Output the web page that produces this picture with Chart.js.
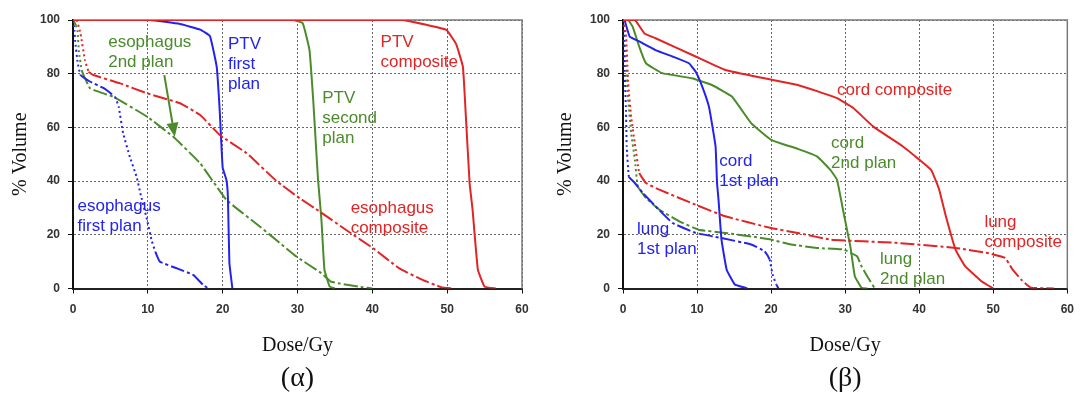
<!DOCTYPE html>
<html>
<head>
<meta charset="utf-8">
<script src="https://cdn.jsdelivr.net/npm/chart.js@4.4.1/dist/chart.umd.min.js"></script>
<style>
  html, body { margin: 0; padding: 0; background: #fff; }
  #wrap { position: relative; width: 1083px; height: 394px; }
  canvas { position: absolute; top: 0; }
  #chartA { left: 0; }
  #chartB { left: 541px; }
</style>
</head>
<body>
<div id="wrap">
  <canvas id="chartA" width="541" height="394"></canvas>
  <canvas id="chartB" width="542" height="394"></canvas>
</div>
<script>
// tick labels
const doseTicks = [0, 10, 20, 30, 40, 50, 60];
const volumeTicks = [0, 20, 40, 60, 80, 100];

// (α) panel - PTV / esophagus
const ptvCompositeDose = [0, 44, 47.2, 49.9, 51.2, 52.1, 52.5, 53.0, 53.4, 54.1, 55.0, 56.5];
const ptvCompositeVol  = [100, 100, 98.2, 96.3, 91, 82.6, 64, 39.2, 29.2, 7, 0.7, 0];
const esoCompositeDose = [0, 0.5, 1.0, 1.6, 2.1, 2.7, 6.3, 9.9, 14.3, 17, 19.6, 23.2, 27.2, 30.3, 33, 36.5, 40.1, 43.6, 46.7, 49.2, 50.7];
const esoCompositeVol  = [100, 100, 95, 85, 80.7, 79.5, 76.4, 72.7, 69, 64.6, 57.2, 50.4, 40, 33.6, 28.6, 21.8, 15, 7.5, 3.2, 0.5, 0];
const ptvFirstDose = [0, 10.3, 14.3, 17, 18.3, 19.2, 19.6, 20, 20.5, 20.7, 20.9, 21.3];
const ptvFirstVol  = [100, 100, 98.5, 96.4, 94, 82.6, 66.5, 45, 40.4, 34, 9.5, 0];
const esoFirstDose = [0, 0.2, 0.3, 0.6, 1.0, 2.3, 4.1, 5.6, 6.1, 6.7, 7.6, 8.5, 9.0, 9.9, 10.5, 11.0, 11.6, 13.9, 16.1, 17.4, 18.1];
const esoFirstVol  = [100, 96, 92, 84.5, 79.5, 77, 74.6, 71.4, 67.7, 57.8, 49, 41.6, 35.5, 25.5, 18, 13.7, 10, 7.5, 5, 1.3, 0];
const ptvSecondDose = [0, 29.4, 30.7, 31.6, 32.1, 32.5, 32.75, 33.2, 33.6, 34.3, 35];
const ptvSecondVol  = [100, 100, 98.8, 88.8, 70.2, 51.6, 40.4, 25.5, 7, 0.7, 0];
const esoSecondDose = [0, 0.4, 0.6, 0.8, 1.2, 2.3, 5.4, 9.9, 13.4, 17, 20.5, 25, 29.9, 33.2, 34.5, 38.7, 40];
const esoSecondVol  = [100, 98, 96, 88, 81, 74.5, 71.4, 64, 56.5, 46.6, 33, 23, 11.8, 5.7, 2.5, 0.5, 0];

// (β) panel - cord / lung
const cordCompositeDose = [0, 1.6, 2.9, 4.4, 9.8, 13.8, 19.1, 23.6, 26.2, 28.9, 31.1, 33.8, 37.8, 40, 41.6, 42.2, 42.7, 43.6, 44.9, 46.2, 48.4, 50];
const cordCompositeVol  = [100, 100, 95, 93.2, 86.4, 81.4, 78.3, 75.8, 73.5, 70.9, 67.2, 60.3, 52.9, 48, 44.2, 40.5, 36.8, 26.9, 14.5, 8.3, 2.7, 0];
const lungCompositeDose = [0, 0.4, 0.7, 1.1, 1.6, 2.2, 3.1, 4.9, 9.8, 13.8, 20, 23.6, 28, 36.9, 44.9, 49.3, 51.6, 52.5, 53.8, 55.1, 58.2];
const lungCompositeVol  = [100, 95, 76.4, 64, 54, 43, 39.3, 36.8, 31.2, 26.9, 22.5, 20.7, 18.2, 17, 15.1, 13.2, 11.4, 7.5, 3.2, 0.3, 0];
const cordFirstDose = [0, 0.2, 0.9, 2.2, 4.4, 6.7, 8.9, 9.8, 10.7, 11.6, 12.0, 12.5, 12.7, 12.9, 13.3, 14.0, 15.1, 16.5, 16.8];
const cordFirstVol  = [100, 100, 93.8, 92, 88.8, 86.4, 83.9, 80.8, 75.2, 67.8, 61.6, 52.9, 39.3, 33, 18.2, 7, 1.5, 0.3, 0];
const lungFirstDose = [0, 0.1, 0.2, 0.4, 0.5, 0.8, 1.6, 2.7, 4.4, 6.7, 9.8, 13.3, 17.3, 19.1, 19.8, 20.2, 20.7, 21];
const lungFirstVol  = [100, 95, 82.6, 66.5, 53, 41.6, 39.3, 35.5, 30.6, 24.4, 20.7, 18.8, 16.4, 13.9, 10.8, 5.2, 1.5, 0];
const cordSecondDose = [0, 0.7, 1.3, 2.2, 3.1, 5.3, 9.3, 12, 14.7, 17.3, 20, 23.6, 26.2, 28, 28.9, 29.8, 30.7, 31.3, 32.2, 33];
const cordSecondVol  = [100, 100, 97.5, 90, 83.9, 80.2, 78.3, 75.8, 71.5, 61.6, 55.4, 52, 49.2, 44.2, 40.5, 28, 15.7, 4.6, 0.3, 0];
const lungSecondDose = [0, 0.2, 0.4, 0.7, 1.1, 1.6, 2, 3.1, 4.9, 7.6, 10.2, 13.8, 17.3, 20, 22.7, 26.2, 29.8, 31.6, 32.2, 33.1, 34];
const lungSecondVol  = [100, 94.8, 82.6, 70.3, 57.9, 48, 38, 33.7, 29.4, 25, 21.9, 20.7, 19.4, 18.2, 16.4, 15.1, 14.5, 12, 8.3, 4, 0];

const BLUE = '#2323ee';
const GREEN = '#4b8b2b';
const RED = '#e22424';
const SANS = "'Liberation Sans', Arial, sans-serif";
const SERIF = "'Liberation Serif', 'Times New Roman', serif";

function pts(dose, vol) {
    return dose.map((d, i) => ({ x: d, y: vol[i] }));
}

// steep parts of the dashed curves look dotted in the original
function dashFor(ctx) {
    const dx = Math.abs(ctx.p1.x - ctx.p0.x);
    const dy = Math.abs(ctx.p1.y - ctx.p0.y);
    return dy > 2.5 * dx ? [2, 3] : [14, 3, 3, 3];
}

function solidLine(dose, vol, color) {
    return { data: pts(dose, vol), borderColor: color, borderWidth: 2, pointRadius: 0, tension: 0.1 };
}
function dashedLine(dose, vol, color) {
    return { data: pts(dose, vol), borderColor: color, borderWidth: 2, pointRadius: 0, tension: 0.1,
             segment: { borderDash: dashFor } };
}

const framePlugin = {
    id: 'frame',
    beforeDatasetsDraw(chart) {
        const { ctx, chartArea: a } = chart;
        ctx.save();
        ctx.strokeStyle = '#7a7a7a';
        ctx.lineWidth = 1.5;
        ctx.beginPath();
        ctx.moveTo(a.left, a.top);
        ctx.lineTo(a.right, a.top);
        ctx.lineTo(a.right, a.bottom);
        ctx.stroke();
        ctx.restore();
    }
};

function notesPlugin(notes, arrows) {
    return {
        id: 'notes',
        afterDatasetsDraw(chart) {
            const { ctx } = chart;
            const xs = chart.scales.x, ys = chart.scales.y;
            ctx.save();
            ctx.font = '17px ' + SANS;
            ctx.textAlign = 'left';
            ctx.textBaseline = 'middle';
            notes.forEach(n => {
                ctx.fillStyle = n.color;
                n.lines.forEach((t, i) => {
                    ctx.fillText(t, xs.getPixelForValue(n.dose), ys.getPixelForValue(n.vol) + i * 20);
                });
            });
            arrows.forEach(a => {
                const x0 = xs.getPixelForValue(a.from[0]), y0 = ys.getPixelForValue(a.from[1]);
                const x1 = xs.getPixelForValue(a.to[0]), y1 = ys.getPixelForValue(a.to[1]);
                const ang = Math.atan2(y1 - y0, x1 - x0);
                const hl = 14, hw = 6;
                const bx = x1 - hl * Math.cos(ang), by = y1 - hl * Math.sin(ang);
                ctx.strokeStyle = a.color;
                ctx.fillStyle = a.color;
                ctx.lineWidth = 2;
                ctx.beginPath();
                ctx.moveTo(x0, y0);
                ctx.lineTo(bx, by);
                ctx.stroke();
                ctx.beginPath();
                ctx.moveTo(x1, y1);
                ctx.lineTo(bx + hw * Math.sin(ang), by - hw * Math.cos(ang));
                ctx.lineTo(bx - hw * Math.sin(ang), by + hw * Math.cos(ang));
                ctx.closePath();
                ctx.fill();
            });
            ctx.restore();
        }
    };
}

function makeChart(id, datasets, notes, arrows, panelLabel, yWidth, rightPad, yTitlePad) {
    const tickFont = { family: SANS, size: 12, weight: 'bold' };
    return new Chart(document.getElementById(id), {
        type: 'line',
        data: { datasets: datasets },
        options: {
            responsive: false,
            animation: false,
            layout: { padding: { top: 20, right: rightPad, bottom: 1, left: 0 } },
            plugins: {
                legend: { display: false },
                tooltip: { enabled: false },
                title: {
                    display: true, text: panelLabel, position: 'bottom', fullSize: false,
                    font: { family: SERIF, size: 28, weight: 'normal', lineHeight: 1 },
                    color: '#111', padding: 0
                }
            },
            scales: {
                x: {
                    type: 'linear', min: 0, max: 60,
                    afterBuildTicks: s => { s.ticks = doseTicks.map(v => ({ value: v })); },
                    afterFit: s => { s.height = 76.5; },
                    ticks: { font: tickFont, color: '#333', padding: 9, maxRotation: 0 },
                    grid: { color: '#666', tickColor: '#111', tickLength: 5 },
                    border: { color: '#222', width: 2, dash: [2, 2] },
                    title: { display: true, text: 'Dose/Gy', color: '#111',
                             font: { family: SERIF, size: 20 }, padding: { top: 0, bottom: 7 } }
                },
                y: {
                    min: 0, max: 100,
                    afterBuildTicks: s => { s.ticks = volumeTicks.map(v => ({ value: v })); },
                    afterFit: s => { s.width = yWidth; },
                    ticks: { font: tickFont, color: '#333', padding: 8 },
                    grid: { color: '#666', tickColor: '#111', tickLength: 5 },
                    border: { color: '#111', width: 2, dash: [2, 2] },
                    title: { display: true, text: '% Volume', color: '#111',
                             font: { family: SERIF, size: 20 }, padding: { top: yTitlePad, bottom: 0 } }
                }
            }
        },
        plugins: [framePlugin, notesPlugin(notes, arrows)]
    });
}

makeChart('chartA', [
    solidLine(ptvCompositeDose, ptvCompositeVol, RED),
    dashedLine(esoCompositeDose, esoCompositeVol, RED),
    solidLine(ptvFirstDose, ptvFirstVol, BLUE),
    dashedLine(esoFirstDose, esoFirstVol, BLUE),
    solidLine(ptvSecondDose, ptvSecondVol, GREEN),
    dashedLine(esoSecondDose, esoSecondVol, GREEN)
], [
    { lines: ['esophagus', '2nd plan'], dose: 4.7, vol: 91.8, color: GREEN },
    { lines: ['PTV', 'first', 'plan'], dose: 20.7, vol: 90.9, color: BLUE },
    { lines: ['PTV', 'composite'], dose: 41.1, vol: 91.6, color: RED },
    { lines: ['PTV', 'second', 'plan'], dose: 33.3, vol: 70.8, color: GREEN },
    { lines: ['esophagus', 'first plan'], dose: 0.6, vol: 30.7, color: BLUE },
    { lines: ['esophagus', 'composite'], dose: 37.1, vol: 29.9, color: RED }
], [
    { from: [12.2, 79.5], to: [13.6, 56.5], color: GREEN }
], '(α)', 73, 19, 9);

makeChart('chartB', [
    solidLine(cordCompositeDose, cordCompositeVol, RED),
    dashedLine(lungCompositeDose, lungCompositeVol, RED),
    solidLine(cordFirstDose, cordFirstVol, BLUE),
    dashedLine(lungFirstDose, lungFirstVol, BLUE),
    solidLine(cordSecondDose, cordSecondVol, GREEN),
    dashedLine(lungSecondDose, lungSecondVol, GREEN)
], [
    { lines: ['cord', '1st plan'], dose: 13.0, vol: 47.3, color: BLUE },
    { lines: ['cord composite'], dose: 28.9, vol: 73.7, color: RED },
    { lines: ['cord', '2nd plan'], dose: 28.1, vol: 53.9, color: GREEN },
    { lines: ['lung', '1st plan'], dose: 1.9, vol: 21.9, color: BLUE },
    { lines: ['lung', '2nd plan'], dose: 34.7, vol: 10.8, color: GREEN },
    { lines: ['lung', 'composite'], dose: 48.8, vol: 24.8, color: RED }
], [], '(β)', 82, 10, 13);
</script>
</body>
</html>
